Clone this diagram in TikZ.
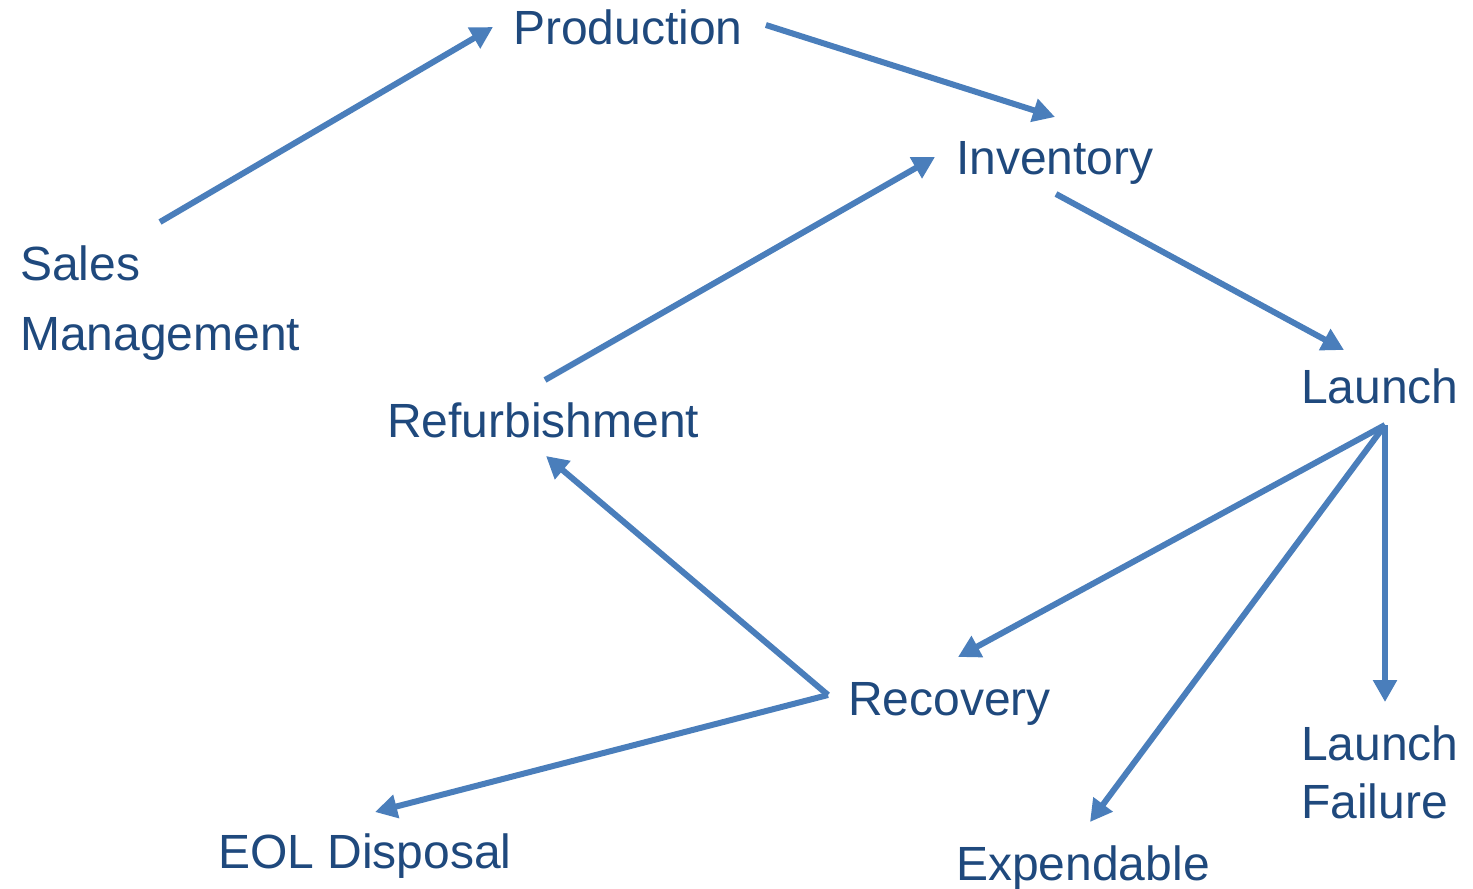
\documentclass[tikz,border=0pt]{standalone}
\usepackage{fontspec}
\setmainfont{Liberation Sans}
\usetikzlibrary{arrows.meta,calc}
\definecolor{labelblue}{RGB}{31,73,125}
\definecolor{flowblue}{RGB}{74,126,187}
\begin{document}
\begin{tikzpicture}[x=1pt,y=-1pt,
  lbl/.style={text=labelblue,inner sep=0pt,anchor=base west,align=left,
              font=\fontsize{48}{70}\selectfont},
  flow/.style={draw=flowblue,line width=6pt,
               -{Triangle[length=22pt,width=23pt]}}]
\useasboundingbox (0,0) rectangle (1473,889);

% stages of the life cycle (base anchor sits on the last line)
\node[lbl] (prod)  at (513,44)  {Production};
\node[lbl] (inv)   at (956,174) {Inventory};
\node[lbl] (sales) at (20,350)  {Sales\\Management};
\node[lbl] (refurb) at (387,437) {Refurbishment};
\node[lbl] (launch) at (1301,403) {Launch};
\node[lbl] (rec)   at (848,715) {Recovery};
\node[lbl,font=\fontsize{48}{58}\selectfont] (fail) at (1301,818) {Launch\\Failure};
\node[lbl] (eol)   at (218,868) {EOL Disposal};
\node[lbl] (exp)   at (956,880) {Expendable};

% hubs where several flows leave one stage
\coordinate (lhub) at ($(launch.base west)+(84,22)$);
\coordinate (rhub) at ($(rec.base west)+(-20,-20)$);

% flows between stages
\draw[flow] ($(sales.base west)+(140,-128)$) -- ($(prod.base west)+(-20,-17)$);
\draw[flow] ($(prod.base east)+(23,-19)$) -- ($(inv.base west)+(99,-57)$);
\draw[flow] ($(inv.base west)+(100,20)$) -- ($(launch.base west)+(43,-53)$);
\draw[flow] ($(refurb.base west)+(158,-57)$) -- ($(inv.base west)+(-21,-17)$);
\draw[flow] (lhub) -- ($(rec.base west)+(110,-58)$);
\draw[flow] (lhub) -- ($(exp.base west)+(134,-58)$);
\draw[flow] (lhub) -- ($(fail.base west)+(84,-116)$);
\draw[flow] (rhub) -- ($(refurb.base west)+(159,19)$);
\draw[flow] (rhub) -- ($(eol.base west)+(157,-56)$);
\end{tikzpicture}
\end{document}
